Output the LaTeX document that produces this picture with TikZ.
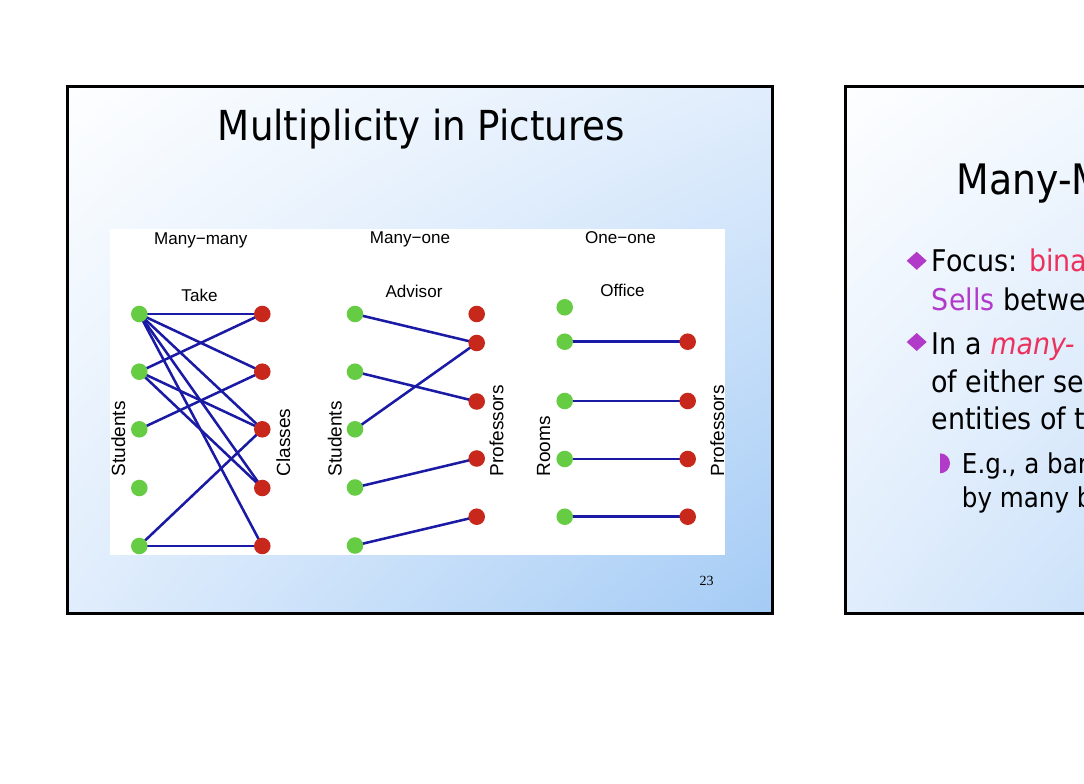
\documentclass[tikz,border=0pt]{standalone}
\usepackage{fontspec}
\setmainfont{Liberation Sans}
\IfFontExistsTF{DejaVu Sans Condensed}{\newfontfamily\tah{DejaVu Sans Condensed}}{\newfontfamily\tah{DejaVu Sans}}
\newfontfamily\tms{Liberation Serif}
\usetikzlibrary{shadings}
\definecolor{gnode}{RGB}{102,204,68}
\definecolor{rnode}{RGB}{200,40,28}
\definecolor{edgeblue}{RGB}{26,26,165}
\definecolor{purp}{RGB}{178,58,200}
\definecolor{pinkred}{RGB}{236,50,92}
\definecolor{bgTL}{RGB}{253,254,255}
\definecolor{bgTR}{RGB}{224,237,252}
\definecolor{bgBL}{RGB}{224,237,252}
\definecolor{bgBR}{RGB}{164,203,245}
\pgfdeclarelayer{back}
\pgfdeclarelayer{edges}
\pgfsetlayers{back,edges,main}
\begin{document}
\begin{tikzpicture}[x=0.75pt,y=-0.75pt,
  gn/.style={circle,fill=gnode,minimum size=12.4pt,inner sep=0pt},
  rn/.style={circle,fill=rnode,minimum size=12.4pt,inner sep=0pt},
  lnk/.style={draw=edgeblue,line width=1.9pt},
  slide/.style={draw=black,line width=2.25pt,upper left=bgTL,upper right=bgTR,lower left=bgBL,lower right=bgBR},
  toplbl/.style={font=\fontsize{12.8pt}{14pt}\selectfont,inner sep=0pt,anchor=base},
  axl/.style={font=\fontsize{14.3pt}{16pt}\selectfont,inner sep=0pt,rotate=90,anchor=base west},
  ttl/.style={font=\tah\fontsize{31pt}{36pt}\selectfont,inner sep=0pt},
  btxt/.style={font=\tah\fontsize{22.4pt}{26pt}\selectfont,inner sep=0pt,anchor=base west},
  stxt/.style={font=\tah\fontsize{20.5pt}{24pt}\selectfont,inner sep=0pt,anchor=base west}]
\useasboundingbox (0,0) rectangle (1084,784);
\clip (0,0) rectangle (1084,784);
\begin{pgfonlayer}{back}
  \clip (0,0) rectangle (1084,784);
  \fill[white] (0,0) rectangle (1084,784);
  \shade[slide] (67.5,86.5) rectangle (772.5,613.5);
  \draw[black,line width=2.25pt] (67.5,86.5) rectangle (772.5,613.5);
  \shade[slide] (845.5,86.5) rectangle (1550.5,613.5);
  \draw[black,line width=2.25pt] (845.5,86.5) rectangle (1550.5,613.5);
  \fill[white] (110,229) rectangle (725,555);
\end{pgfonlayer}

% left slide title
\node[ttl,anchor=base] (t1) at (421.5,141) {Multiplicity in Pictures};

% labels
\node[toplbl] (l1) at (200.8,244.5) {Many−many};
\node[toplbl] (l2) at (410,243.3) {Many−one};
\node[toplbl] (l3) at (620.5,243.3) {One−one};
\node[toplbl] (r1) at (199.5,301.7) {Take};
\node[toplbl] (r2) at (414,297.3) {Advisor};
\node[toplbl] (r3) at (622.5,296.7) {Office};
\node[axl] (x1) at (125,476.7) {Students};
\node[axl] (x2) at (290,476.7) {Classes};
\node[axl] (x3) at (341.7,476.7) {Students};
\node[axl] (x4) at (503.3,476.7) {Professors};
\node[axl] (x5) at (550,476.7) {Rooms};
\node[axl] (x6) at (724,476.7) {Professors};

% many-many
\node[gn] (a1) at (139.3,314) {};
\node[gn] (a2) at (139.3,371.7) {};
\node[gn] (a3) at (139.3,429.3) {};
\node[gn] (a4) at (139.3,488) {};
\node[gn] (a5) at (139.3,546) {};
\node[rn] (b1) at (262.3,314) {};
\node[rn] (b2) at (262.3,371.7) {};
\node[rn] (b3) at (262.3,429.3) {};
\node[rn] (b4) at (262.3,488) {};
\node[rn] (b5) at (262.3,546) {};
% many-one
\node[gn] (c1) at (355,314) {};
\node[gn] (c2) at (355,371.7) {};
\node[gn] (c3) at (355,429.3) {};
\node[gn] (c4) at (355,487.5) {};
\node[gn] (c5) at (355,545.5) {};
\node[rn] (d1) at (476.7,314) {};
\node[rn] (d2) at (476.7,343) {};
\node[rn] (d3) at (476.7,401.5) {};
\node[rn] (d4) at (476.7,458.5) {};
\node[rn] (d5) at (476.7,516.7) {};
% one-one
\node[gn] (e1) at (564.7,307.3) {};
\node[gn] (e2) at (564.7,341.7) {};
\node[gn] (e3) at (564.7,401) {};
\node[gn] (e4) at (564.7,459) {};
\node[gn] (e5) at (564.7,516.7) {};
\node[rn] (f2) at (687.7,341.7) {};
\node[rn] (f3) at (687.7,401) {};
\node[rn] (f4) at (687.7,459) {};
\node[rn] (f5) at (687.7,516.7) {};

\begin{pgfonlayer}{edges}
  \foreach \s/\t in {a1/b1,a1/b2,a1/b3,a1/b4,a1/b5,a2/b1,a2/b3,a2/b4,a3/b2,a5/b3,a5/b5,
                     c1/d2,c2/d3,c3/d2,c4/d4,c5/d5,
                     e2/f2,e3/f3,e4/f4,e5/f5}
    \draw[lnk] (\s.center) -- (\t.center);
\end{pgfonlayer}

\node[font=\tms\fontsize{10.5pt}{13pt}\selectfont,inner sep=0pt,anchor=base] (pg) at (706.7,585) {23};

% right slide
\node[ttl,anchor=base west,font=\tah\fontsize{31.5pt}{36pt}\selectfont] (t2) at (956.7,195) {Many-M};
\fill[purp] (906.7,260.8) -- (916.7,251.8) -- (926.7,260.8) -- (916.7,269.8) -- cycle;
\fill[purp] (906.7,342) -- (916.7,333) -- (926.7,342) -- (916.7,351) -- cycle;
\fill[purp] (940,453.3) arc[start angle=-90,end angle=90,radius=10] -- cycle;
\node[btxt] (p1) at (931.7,271) {Focus: \textcolor{pinkred}{bina}};
\node[btxt] (p2) at (931.7,310) {\textcolor{purp}{Sells} betwe};
\node[btxt] (p3) at (931.7,354) {In a \textcolor{pinkred}{\itshape many-}};
\node[btxt] (p4) at (931.2,392.3) {of either se};
\node[btxt] (p5) at (931.2,429) {entities of t};
\node[stxt] (q1) at (961.7,473.3) {E.g., a bar};
\node[stxt] (q2) at (961.7,507.5) {by many b};
\end{tikzpicture}
\end{document}
